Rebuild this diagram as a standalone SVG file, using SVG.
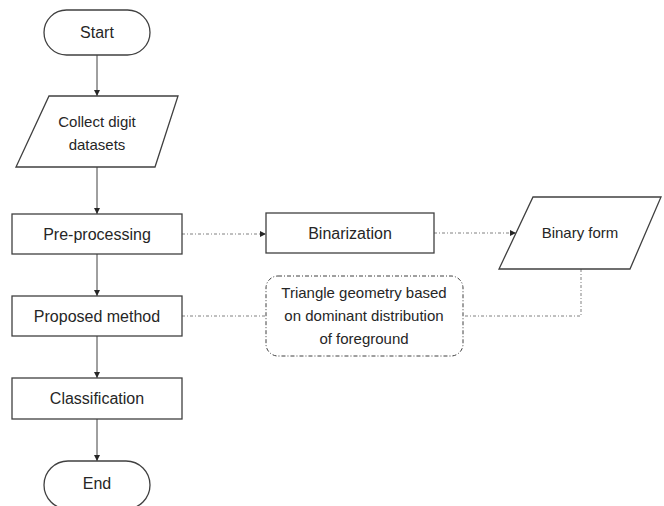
<svg xmlns="http://www.w3.org/2000/svg" width="664" height="506" viewBox="0 0 664 506">
<style>
.box{fill:#fff;stroke:#404040;stroke-width:1.3}
.t{font-family:"Liberation Sans",Arial,sans-serif;font-size:16px;fill:#262626;text-anchor:middle}
.ts{font-family:"Liberation Sans",Arial,sans-serif;font-size:15px;fill:#262626;text-anchor:middle}
.c{fill:none;stroke:#404040;stroke-width:1}
.d{fill:none;stroke:#808080;stroke-width:1;stroke-dasharray:3 2 1 2}
</style>
<defs>
<marker id="ah" viewBox="0 0 10 10" refX="10" refY="5" markerWidth="6" markerHeight="6" markerUnits="userSpaceOnUse" orient="auto"><path d="M0,0 L10,5 L0,10 z" fill="#262626"/></marker>
</defs>
<rect width="664" height="506" fill="#fff"/>
<g id="connectors">
<line class="c" x1="97" y1="55" x2="97" y2="96" marker-end="url(#ah)"/>
<line class="c" x1="97" y1="167" x2="97" y2="214" marker-end="url(#ah)"/>
<line class="c" x1="97" y1="254" x2="97" y2="296" marker-end="url(#ah)"/>
<line class="c" x1="97" y1="336" x2="97" y2="378" marker-end="url(#ah)"/>
<line class="c" x1="97" y1="419" x2="97" y2="461" marker-end="url(#ah)"/>
<line class="d" x1="182" y1="234" x2="266" y2="234" marker-end="url(#ah)"/>
<line class="d" x1="434" y1="233" x2="516" y2="233" marker-end="url(#ah)"/>
<polyline class="d" points="581,269 581,316 463,316"/>
<line class="d" x1="182" y1="316" x2="266" y2="316"/>
</g>
<g id="start"><rect class="box" x="44" y="10" width="106" height="45" rx="22.5"/><text class="t" x="97" y="38">Start</text></g>
<g id="collect"><polygon class="box" points="49,96 178,96 155,167 16,167"/><text class="ts" x="97" y="127">Collect digit</text><text class="ts" x="97" y="150">datasets</text></g>
<g id="preprocessing"><rect class="box" x="12" y="214" width="170" height="40"/><text class="t" x="97" y="240">Pre-processing</text></g>
<g id="binarization"><rect class="box" x="266" y="213" width="168" height="40"/><text class="t" x="350" y="239">Binarization</text></g>
<g id="binaryform"><polygon class="box" points="533,197 661,197 630,269 499,269"/><text class="ts" x="580" y="238">Binary form</text></g>
<g id="triangle"><rect x="266" y="276" width="197" height="80" rx="12" fill="#fff" stroke="#404040" stroke-width="1" stroke-dasharray="4 2 1 2"/><text class="ts" x="364" y="298">Triangle geometry based</text><text class="ts" x="364" y="321">on dominant distribution</text><text class="ts" x="364" y="344">of foreground</text></g>
<g id="proposed"><rect class="box" x="12" y="296" width="170" height="40"/><text class="t" x="97" y="322">Proposed method</text></g>
<g id="classification"><rect class="box" x="12" y="378" width="170" height="41"/><text class="t" x="97" y="404">Classification</text></g>
<g id="end"><rect class="box" x="44" y="461" width="106" height="48" rx="24"/><text class="t" x="97" y="489">End</text></g>
</svg>
